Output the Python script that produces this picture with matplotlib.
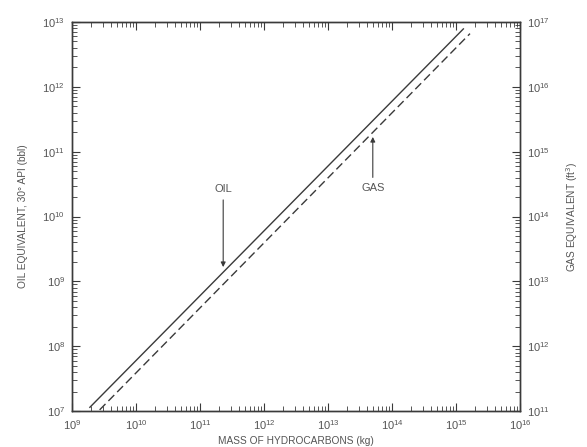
import numpy as np
import matplotlib.pyplot as plt
from matplotlib.ticker import LogLocator, NullFormatter

plt.rcParams['font.family'] = ['Liberation Sans', 'DejaVu Sans']

# line end points
oil_mass = [1.9e9, 1.3e15]      # kg
oil_bbl = [1.15e7, 7.8e12]      # bbl, left axis
gas_mass = [2.7e9, 1.65e15]     # kg
gas_ft3 = [1.05e11, 6.6e16]     # ft^3, right axis

x_ticks = [1e9, 1e10, 1e11, 1e12, 1e13, 1e14, 1e15, 1e16]
oil_ticks = [1e7, 1e8, 1e9, 1e10, 1e11, 1e12, 1e13]
gas_ticks = [1e11, 1e12, 1e13, 1e14, 1e15, 1e16, 1e17]

oil_label_x = 2.3e11
gas_label_x = 5.0e13

ink = '#3a3a3a'
txt = '#555555'

fig = plt.figure(figsize=(5.87, 4.47), dpi=100)
ax = fig.add_axes([0.1227, 0.08, 0.7633, 0.871])
ax2 = ax.twinx()

ax.plot(oil_mass, oil_bbl, color=ink, lw=1.0)
ax2.plot(gas_mass, gas_ft3, color=ink, lw=1.0, ls=(0, (6, 3)))

for a in (ax, ax2):
    a.set_xscale('log')
    a.set_yscale('log')
    a.set_xticks(x_ticks)
    a.set_xlim(x_ticks[0], x_ticks[-1])
ax.set_yticks(oil_ticks)
ax.set_ylim(oil_ticks[0], oil_ticks[-1])
ax2.set_yticks(gas_ticks)
ax2.set_ylim(gas_ticks[0], gas_ticks[-1])

for a in (ax, ax2):
    a.xaxis.set_minor_locator(LogLocator(base=10, subs=np.arange(2, 10), numticks=20))
    a.yaxis.set_minor_locator(LogLocator(base=10, subs=np.arange(2, 10), numticks=20))
    a.xaxis.set_minor_formatter(NullFormatter())
    a.yaxis.set_minor_formatter(NullFormatter())
    for s in a.spines.values():
        s.set_color(ink)
        s.set_linewidth(1.0)

ax.tick_params(which='both', direction='in', top=True, right=False, colors=ink,
               labelcolor=txt, labelsize=8, pad=5)
ax.tick_params(which='major', length=6, width=0.8)
ax.tick_params(which='minor', length=3.5, width=0.6)
ax2.tick_params(which='both', direction='in', colors=ink, labelcolor=txt, labelsize=8, pad=5)
ax2.tick_params(which='major', length=6, width=0.8)
ax2.tick_params(which='minor', length=3.5, width=0.6)

ax.set_xlabel('MASS OF HYDROCARBONS (kg)', fontsize=7.3, color=txt, labelpad=3)
ax.set_ylabel('OIL EQUIVALENT, 30° API (bbl)', fontsize=7.3, color=txt, labelpad=10)
ax2.set_ylabel('GAS EQUIVALENT (ft$^3$)', fontsize=7.3, color=txt, labelpad=10, rotation=90)

# arrows to the lines
oil_y = np.interp(np.log10(oil_label_x), np.log10(oil_mass), np.log10(oil_bbl))
ax.annotate('OIL', xy=(oil_label_x, 10 ** oil_y * 1.2), xytext=(oil_label_x, 10 ** (oil_y + 1.2)),
            ha='center', va='bottom', fontsize=8, color=txt,
            arrowprops=dict(arrowstyle='-|>', color=ink, lw=0.8, mutation_scale=7,
                            shrinkA=2, shrinkB=0))
gas_y = np.interp(np.log10(gas_label_x), np.log10(gas_mass), np.log10(gas_ft3))
ax2.annotate('GAS', xy=(gas_label_x, 10 ** gas_y * 0.85), xytext=(gas_label_x, 10 ** (gas_y - 0.78)),
             ha='center', va='top', fontsize=8, color=txt,
             arrowprops=dict(arrowstyle='-|>', color=ink, lw=0.8, mutation_scale=7,
                             shrinkA=2, shrinkB=0))

fig.savefig('out.png', dpi=100)
